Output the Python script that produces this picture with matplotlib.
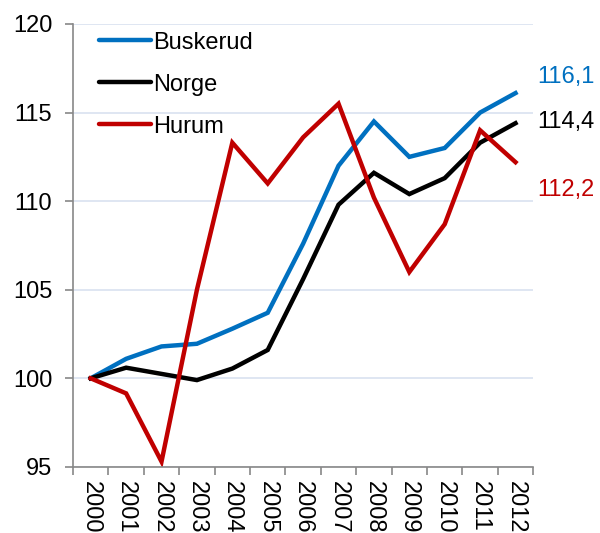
import matplotlib
matplotlib.use("Agg")
import matplotlib.pyplot as plt
import numpy as np

plt.rcParams['font.family'] = ['Liberation Sans', 'DejaVu Sans']

years = ['2000', '2001', '2002', '2003', '2004', '2005', '2006',
         '2007', '2008', '2009', '2010', '2011', '2012']
buskerud = [100, 101.1, 101.8, 101.95, 102.8, 103.7, 107.6,
            112.0, 114.5, 112.5, 113.0, 115.0, 116.1]
norge = [100, 100.6, 100.25, 99.9, 100.55, 101.6, 105.6,
         109.8, 111.6, 110.4, 111.3, 113.3, 114.4]
hurum = [100, 99.15, 95.3, 105.0, 113.3, 111.0, 113.6,
         115.5, 110.2, 106.0, 108.7, 114.0, 112.2]
end_labels = ['116,1', '114,4', '112,2']

blue = '#0070C0'
red = '#C00000'
fs = 17

fig = plt.figure(figsize=(6, 5.33), dpi=100)
ax = fig.add_axes([0.1217, 0.124, 0.767, 0.831])

x = np.arange(len(years))
ax.plot(x, buskerud, color=blue, lw=3.2, label='Buskerud', solid_joinstyle='miter')
ax.plot(x, norge, color='black', lw=3.2, label='Norge', solid_joinstyle='miter')
ax.plot(x, hurum, color=red, lw=3.2, label='Hurum', solid_joinstyle='miter')

ax.set_xlim(-0.5, len(years) - 0.5)
ax.set_ylim(95, 120)
ax.set_yticks([95, 100, 105, 110, 115, 120])
ax.yaxis.grid(True, color='#D9E2F0', lw=1.2)
ax.set_axisbelow(True)

# tick marks on category boundaries, labels in the centre
ax.set_xticks(np.arange(-0.5, len(years), 1))
ax.set_xticklabels([])
ax.set_xticks(x, minor=True)
ax.set_xticklabels(years, minor=True, rotation=270, fontsize=fs)
ax.tick_params(axis='x', which='minor', length=0, pad=10)
ax.tick_params(axis='x', which='major', length=6, color='#888888', width=1.2)
ax.tick_params(axis='y', length=6, color='#888888', width=1.2, labelsize=fs, pad=9)

for s in ['top', 'right']:
    ax.spines[s].set_visible(False)
for s in ['left', 'bottom']:
    ax.spines[s].set_color('#888888')
    ax.spines[s].set_linewidth(1.2)

# end value labels
ax.text(12.62, 117.0, end_labels[0], color=blue, fontsize=fs,
        va='center', ha='left', clip_on=False)
ax.text(12.62, 114.47, end_labels[1], color='black', fontsize=fs,
        va='center', ha='left', clip_on=False)
ax.text(12.62, 110.63, end_labels[2], color=red, fontsize=fs,
        va='center', ha='left', clip_on=False)

leg = ax.legend(loc='upper left', frameon=False, fontsize=fs, handlelength=2.2,
                handletextpad=0.1, labelspacing=0.85, borderaxespad=0.2,
                bbox_to_anchor=(0.025, 1.015))
for h in leg.get_lines():
    h.set_solid_capstyle('round')

fig.savefig('out.png', dpi=100)
